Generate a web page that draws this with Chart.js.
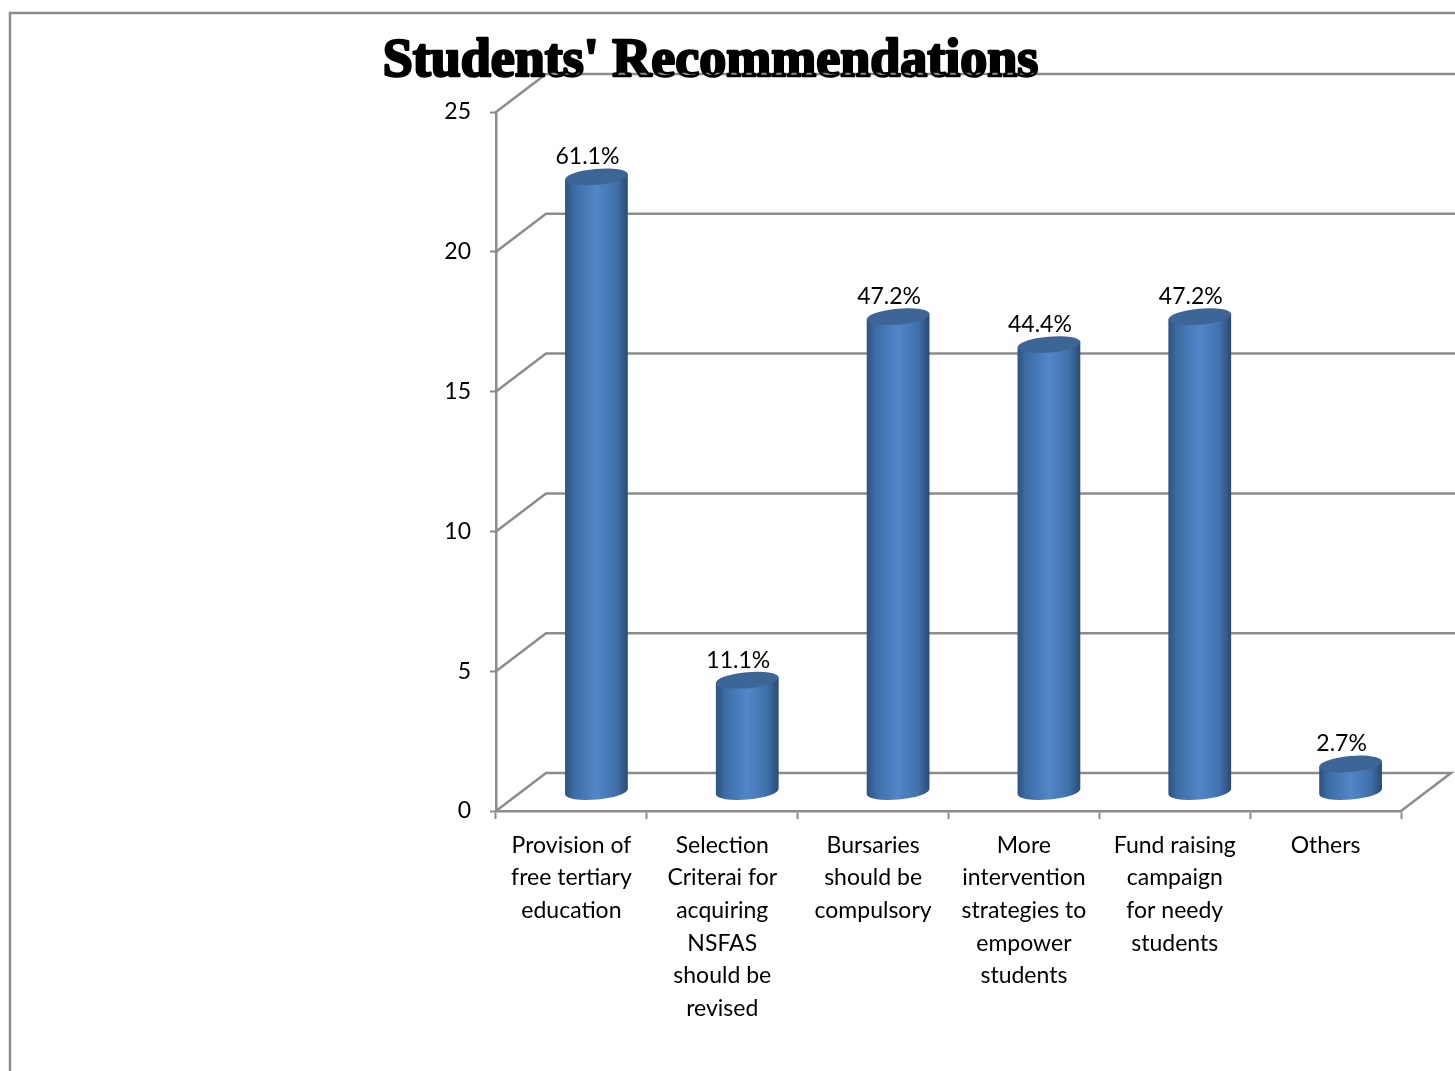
<!DOCTYPE html>
<html>
<head>
<meta charset="utf-8">
<title>Students' Recommendations</title>
<script src="https://cdn.jsdelivr.net/npm/chart.js@4"></script>
<style>
    html, body { margin: 0; padding: 0; background: #fff; overflow: hidden; }
    canvas { display: block; }
</style>
</head>
<body>
<canvas id="chart" width="1455" height="1071"></canvas>
<script>
const chartTitle = "Students' Recommendations";
const categories = [
    ['Provision of', 'free tertiary', 'education'],
    ['Selection', 'Criterai for', 'acquiring', 'NSFAS', 'should be', 'revised'],
    ['Bursaries', 'should be', 'compulsory'],
    ['More', 'intervention', 'strategies to', 'empower', 'students'],
    ['Fund raising', 'campaign', 'for needy', 'students'],
    ['Others']
];
const values = [22, 4, 17, 16, 17, 1];
const percentLabels = ['61.1%', '11.1%', '47.2%', '44.4%', '47.2%', '2.7%'];

const lineColor = '#8c8c8c';
const depthX = 50, depthY = 38;
const labelFont = '23px Lato';

// 3d look: the back wall lines and frame go under the bars
const wallPlugin = {
    id: 'walls',
    beforeDatasetsDraw(chart) {
        const { ctx, chartArea, scales: { y } } = chart;
        ctx.save();
        ctx.strokeStyle = lineColor;
        ctx.lineWidth = 2.5;

        // page frame, only top and left show
        ctx.beginPath();
        ctx.moveTo(10, 1071);
        ctx.lineTo(10, 13);
        ctx.lineTo(1455, 13);
        ctx.stroke();

        y.ticks.forEach(t => {
            const py = y.getPixelForValue(t.value);
            const end = t.value === 0 ? chartArea.right + depthX : 1455;
            ctx.beginPath();
            ctx.moveTo(chartArea.left, py);
            ctx.lineTo(chartArea.left + depthX, py - depthY);
            ctx.lineTo(end, py - depthY);
            if (t.value === 0) ctx.lineTo(chartArea.right, py);
            ctx.stroke();
        });
        ctx.restore();
    },
    afterDatasetsDraw(chart) {
        const { ctx } = chart;
        const meta = chart.getDatasetMeta(0);
        ctx.save();
        meta.data.forEach((bar, i) => {
            drawCylinder(ctx, bar.x + depthX / 2, bar.y - depthY / 2, bar.base - depthY / 2, bar.width / 2);
            ctx.fillStyle = '#000';
            ctx.font = labelFont;
            ctx.textAlign = 'center';
            ctx.textBaseline = 'middle';
            ctx.fillText(percentLabels[i], bar.x + 16, bar.y - depthY / 2 - 20);
        });
        ctx.restore();
    },
    afterDraw(chart) {
        // heavier face for the title, same spot as the title plugin puts it
        const { ctx, titleBlock } = chart;
        const opts = chart.options.plugins.title;
        ctx.save();
        ctx.font = opts.font.weight + ' ' + opts.font.size + 'px ' + opts.font.family;
        ctx.textAlign = 'center';
        ctx.textBaseline = 'middle';
        ctx.lineJoin = 'round';
        ctx.strokeStyle = '#000';
        ctx.lineWidth = 2.5;
        ctx.strokeText(chartTitle, (titleBlock.left + titleBlock.right) / 2, titleBlock.top + opts.padding.top + opts.font.size / 2);
        ctx.restore();
    }
};

function drawCylinder(ctx, cx, top, bottom, rx) {
    const ry = 8, tilt = -0.09;
    const dx = rx * Math.cos(tilt), dy = rx * Math.sin(tilt);

    const grad = ctx.createLinearGradient(cx - rx, 0, cx + rx, 0);
    grad.addColorStop(0, '#2c5282');
    grad.addColorStop(0.14, '#3c6ca4');
    grad.addColorStop(0.5, '#5187c9');
    grad.addColorStop(0.82, '#3f70aa');
    grad.addColorStop(1, '#2b4a70');

    ctx.beginPath();
    ctx.moveTo(cx - dx, top - dy);
    ctx.lineTo(cx - dx, bottom - dy);
    ctx.ellipse(cx, bottom, rx, ry, tilt, Math.PI, 0, true);
    ctx.lineTo(cx + dx, top + dy);
    ctx.closePath();
    ctx.fillStyle = grad;
    ctx.fill();

    ctx.beginPath();
    ctx.ellipse(cx, top, rx, ry, tilt, 0, Math.PI * 2);
    ctx.fillStyle = '#3d6595';
    ctx.fill();
}

new Chart(document.getElementById('chart'), {
    type: 'bar',
    data: {
        labels: categories,
        datasets: [{
            data: values,
            backgroundColor: 'rgba(0,0,0,0)',
            barThickness: 63
        }]
    },
    options: {
        responsive: false,
        animation: false,
        layout: { padding: { left: 20, right: 54, top: 0, bottom: 0 } },
        plugins: {
            legend: { display: false },
            tooltip: { enabled: false },
            title: {
                display: true,
                text: chartTitle,
                color: '#000',
                font: { family: 'Liberation Serif', size: 54, weight: 'bold', lineHeight: 1 },
                padding: { top: 35, bottom: 23 }
            }
        },
        scales: {
            x: {
                afterFit(scale) { scale.height = 260; },
                border: { color: lineColor, width: 2.5 },
                grid: { drawOnChartArea: false, color: lineColor, tickLength: 8, tickWidth: 2 },
                ticks: {
                    color: '#000',
                    padding: 10,
                    maxRotation: 0,
                    autoSkip: false,
                    font: { family: 'Lato', size: 23, lineHeight: 1.42 }
                }
            },
            y: {
                min: 0,
                max: 25,
                afterFit(scale) { scale.width = 476; },
                border: { color: lineColor, width: 2.5 },
                grid: { drawOnChartArea: false, color: lineColor, tickLength: 6, tickWidth: 2 },
                ticks: {
                    stepSize: 5,
                    color: '#000',
                    padding: 19,
                    font: { family: 'Lato', size: 23 }
                }
            }
        }
    },
    plugins: [wallPlugin]
});
</script>
</body>
</html>
